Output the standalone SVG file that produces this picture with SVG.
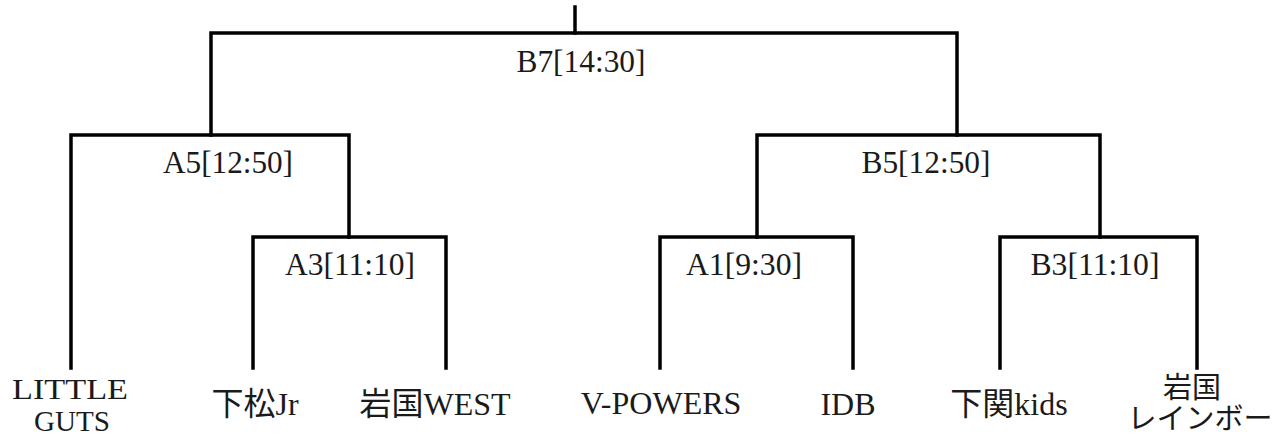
<svg xmlns="http://www.w3.org/2000/svg" width="1273" height="437" viewBox="0 0 1273 437">
<style>
.ln{fill:none;stroke:#000;stroke-width:3.5;stroke-linecap:square;stroke-linejoin:miter}
text{font-family:"Liberation Serif","Noto Sans CJK JP",serif;font-size:32px;fill:#1a1a1a;text-anchor:middle}
.two{font-size:30px}
.jp2{font-size:29px}
</style>
<rect width="1273" height="437" fill="#fff"/>
<g id="connectors">
<path class="ln" d="M575,7V33"/>
<path class="ln" d="M211,135V33H957V135"/>
<path class="ln" d="M71,368V135H349V237"/>
<path class="ln" d="M253,368V237H446V368"/>
<path class="ln" d="M757,237V135H1100V237"/>
<path class="ln" d="M660,368V237H853V368"/>
<path class="ln" d="M1000,368V237H1197V368"/>
</g>
<g id="m-B7"><text x="581" y="72" textLength="129" lengthAdjust="spacingAndGlyphs">B7[14:30]</text></g>
<g id="m-A5"><text x="228" y="173" textLength="130" lengthAdjust="spacingAndGlyphs">A5[12:50]</text></g>
<g id="m-B5"><text x="926" y="173" textLength="129" lengthAdjust="spacingAndGlyphs">B5[12:50]</text></g>
<g id="m-A3"><text x="350" y="275" textLength="130" lengthAdjust="spacingAndGlyphs">A3[11:10]</text></g>
<g id="m-A1"><text x="744" y="275" textLength="116" lengthAdjust="spacingAndGlyphs">A1[9:30]</text></g>
<g id="m-B3"><text x="1095" y="275" textLength="129" lengthAdjust="spacingAndGlyphs">B3[11:10]</text></g>
<g id="t-littleguts"><text class="two" x="70" y="399" textLength="116" lengthAdjust="spacingAndGlyphs">LITTLE</text><text class="two" x="72" y="431" textLength="76" lengthAdjust="spacingAndGlyphs">GUTS</text></g>
<g id="t-shimomatsu"><text x="255" y="415">下松Jr</text></g>
<g id="t-iwakuniwest"><text x="435" y="415">岩国WEST</text></g>
<g id="t-vpowers"><text x="661" y="414">V-POWERS</text></g>
<g id="t-idb"><text x="848" y="415">IDB</text></g>
<g id="t-shimonosekikids"><text x="1009" y="415">下関kids</text></g>
<g id="t-iwakunirainbow"><text class="jp2" x="1192" y="398">岩国</text><text class="jp2" x="1200" y="429">レインボー</text></g>
</svg>
